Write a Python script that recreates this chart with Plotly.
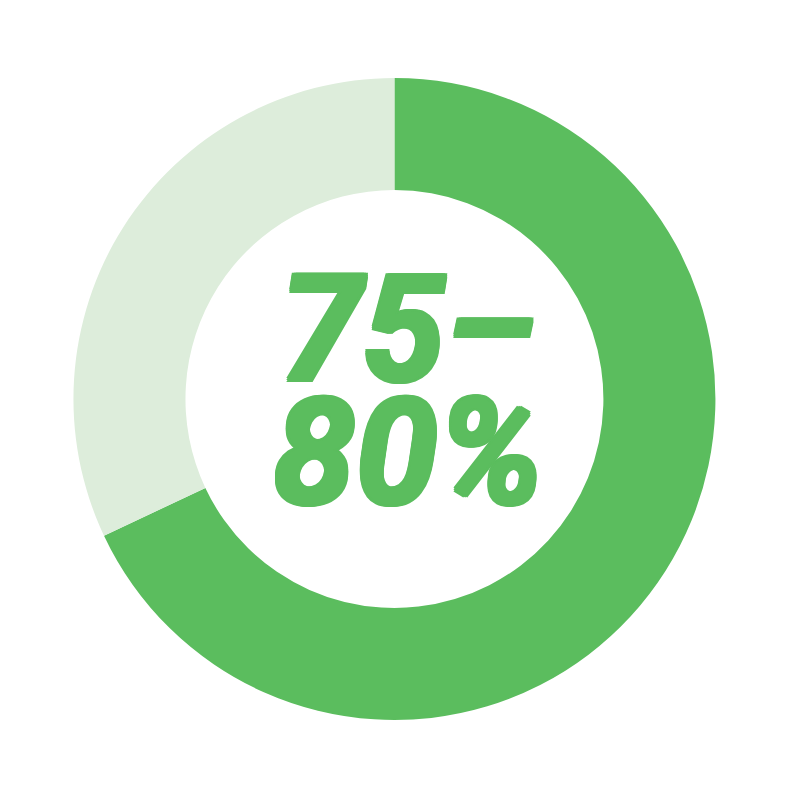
import plotly.graph_objects as go

labels = ["Share", "Rest"]
values = [68, 32]
colors = ["#5BBD5E", "#DDEDDB"]
center_lines = ["75–", "80%"]

green = "#5BBD5E"
# fake a heavier weight by stacking small text shadows
heavy = ", ".join(f"{dx}px {dy}px 0 {green}" for dx, dy in
                  [(2, 0), (-2, 0), (0, 2), (0, -2), (2, 2), (-2, -2), (2, -2), (-2, 2)])

fig = go.Figure()
fig.add_trace(go.Pie(
    labels=labels,
    values=values,
    hole=0.651,
    sort=False,
    direction="clockwise",
    rotation=0,
    marker=dict(colors=colors, line=dict(width=0)),
    textinfo="none",
    hoverinfo="none",
    domain=dict(x=[0.0813, 0.8788], y=[0.1010, 0.9116]),
))

for txt, ypos in zip(center_lines, [0.594, 0.439]):
    fig.add_annotation(
        text=txt, x=0.497, y=ypos, xref="paper", yref="paper",
        xanchor="center", yanchor="middle", showarrow=False,
        font=dict(family="Roboto", size=148, color=green, weight="bold",
                  style="italic", shadow=heavy),
    )

fig.update_layout(
    width=805, height=792,
    margin=dict(l=0, r=0, t=0, b=0),
    showlegend=False,
    paper_bgcolor="white",
    plot_bgcolor="white",
)

fig.write_html("out.html")
